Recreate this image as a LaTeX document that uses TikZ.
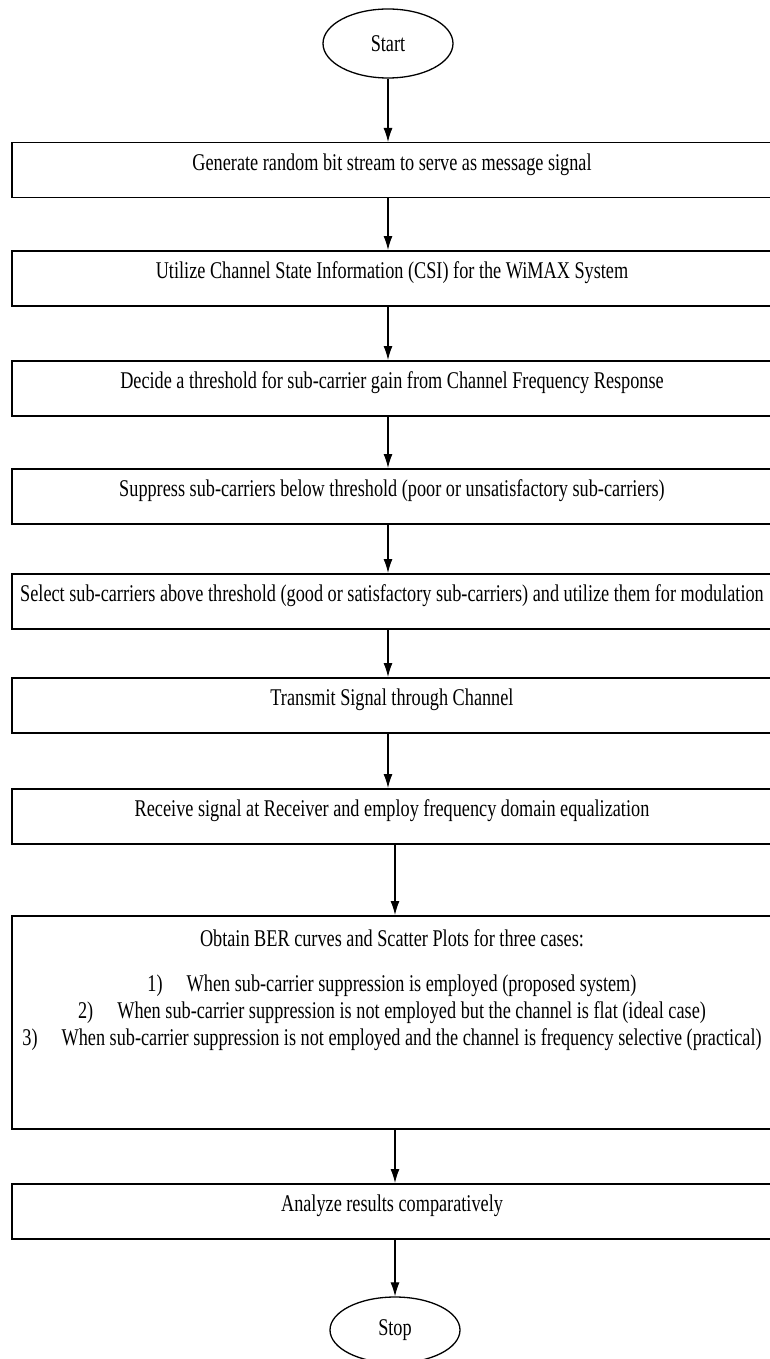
\documentclass[tikz,border=0pt]{standalone}
\usepackage{fontspec}
\setmainfont[FakeStretch=0.76]{Liberation Serif}
\usetikzlibrary{positioning,arrows.meta,shapes.geometric}

\begin{document}
\begin{tikzpicture}[x=1pt,y=-1pt,
  stepbox/.style={draw,line width=1.5pt,minimum width=760pt,minimum height=55pt,inner sep=0pt,text height=28pt,text depth=27pt,anchor=north},
  term/.style={draw,ellipse,line width=1.3pt,minimum width=130pt,minimum height=69pt,inner sep=0pt},
  flow/.style={-{Latex[length=14pt,width=9pt]},line width=1.1pt},
  font=\fontsize{24}{27}\selectfont]
  \useasboundingbox (0,0) rectangle (769,1359);
  \coordinate (upcol) at (388,0);
  \coordinate (lowcol) at (395,0);
  \node[term] (start) at (388,43.5) {Start};
  \node[stepbox] (gen) at (392,142) {Generate random bit stream to serve as message signal};
  \node[stepbox] (csi) at (392,250) {Utilize Channel State Information (CSI) for the WiMAX System};
  \node[stepbox] (thresh) at (392,360) {Decide a threshold for sub-carrier gain from Channel Frequency Response};
  \node[stepbox] (suppress) at (392,468) {Suppress sub-carriers below threshold (poor or unsatisfactory sub-carriers)};
  \node[stepbox] (select) at (392,573) {Select sub-carriers above threshold (good or satisfactory sub-carriers) and utilize them for modulation};
  \node[stepbox] (transmit) at (392,677) {Transmit Signal through Channel};
  \node[stepbox] (receive) at (392,788) {Receive signal at Receiver and employ frequency domain equalization};
  \node[stepbox,text height=31pt,text depth=182pt] (obtain) at (392,915) {\begin{tabular}[t]{@{}c@{}}
    Obtain BER curves and Scatter Plots for three cases:\\[18pt]
    1)\quad When sub-carrier suppression is employed (proposed system)\\
    2)\quad When sub-carrier suppression is not employed but the channel is flat (ideal case)\\
    3)\quad When sub-carrier suppression is not employed and the channel is frequency selective (practical)
  \end{tabular}};
  \node[stepbox] (analyze) at (392,1183) {Analyze results comparatively};
  \node[term,minimum height=66pt] (stop) at (395,1330) {Stop};

  \foreach \a/\b in {start/gen,gen/csi,csi/thresh,thresh/suppress,suppress/select,select/transmit,transmit/receive}
    \draw[flow] (\a.south -| upcol) -- (\b.north -| upcol);
  \foreach \a/\b in {receive/obtain,obtain/analyze,analyze/stop}
    \draw[flow] (\a.south -| lowcol) -- (\b.north -| lowcol);
\end{tikzpicture}
\end{document}
